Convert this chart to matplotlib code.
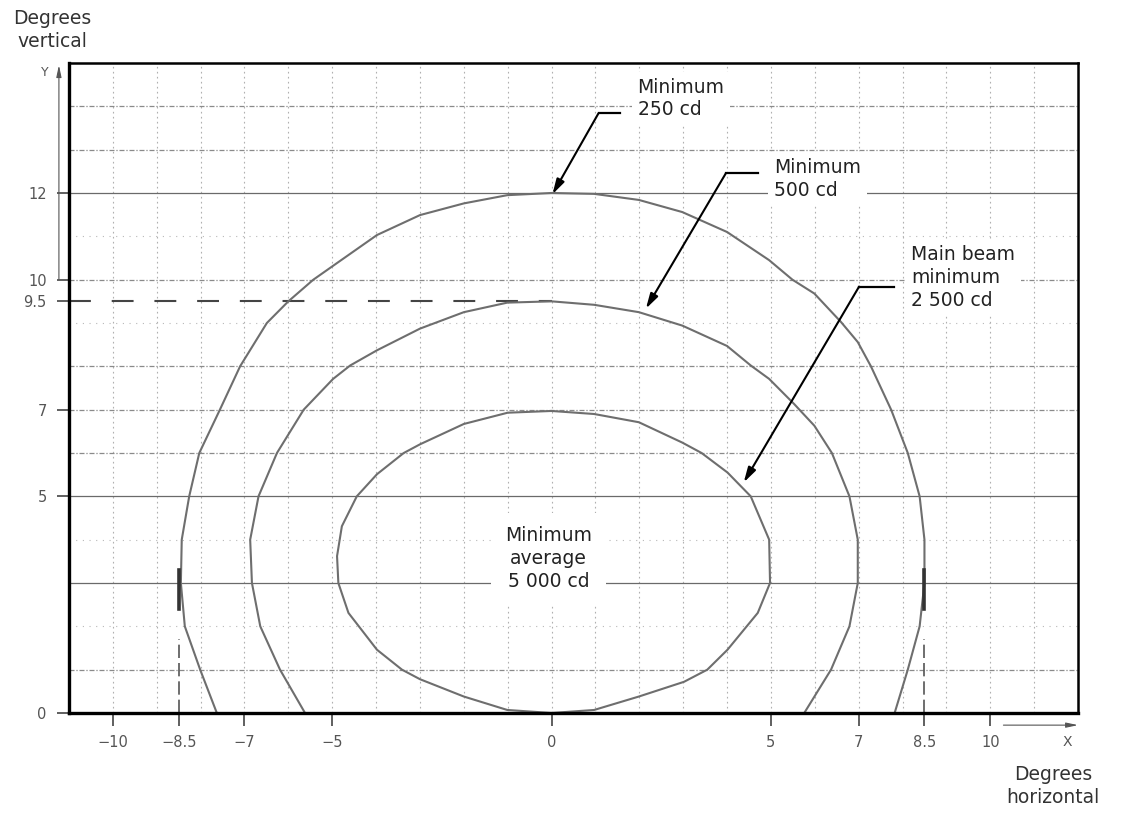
import matplotlib
matplotlib.use("Agg")
import matplotlib.pyplot as plt

# isocandela contours (degrees horizontal, degrees vertical)
x_250 = [-7.63, -8.01, -8.36, -8.45, -8.43, -8.26, -8.03, -7.56, -7.10, -6.49, -6.00,
         -5.43, -4.98, -3.98, -3.00, -2.00, -1.01, 0.00, 0.97, 1.99, 2.98, 4.00, 4.96,
         5.49, 5.99, 6.60, 6.98, 7.28, 7.74, 8.12, 8.39, 8.50, 8.50, 8.39, 8.12, 7.82]
y_250 = [0.00, 1.00, 2.00, 3.00, 4.00, 5.00, 6.00, 7.00, 8.00, 9.00, 9.50,
         10.00, 10.32, 11.03, 11.49, 11.76, 11.95, 12.00, 11.98, 11.84, 11.56, 11.10, 10.45,
         10.00, 9.68, 9.02, 8.56, 8.00, 7.00, 6.00, 5.00, 4.00, 3.00, 2.00, 1.00, 0.00]

x_500 = [-5.62, -6.19, -6.64, -6.83, -6.87, -6.68, -6.26, -5.65, -4.98, -4.59, -3.98,
         -3.00, -2.00, -1.01, 0.00, 0.97, 1.99, 2.98, 4.00, 4.54, 4.96, 5.53, 5.99,
         6.39, 6.79, 6.98, 6.98, 6.79, 6.37, 5.76]
y_500 = [0.00, 1.00, 2.00, 3.00, 4.00, 5.00, 6.00, 7.00, 7.71, 8.02, 8.37,
         8.87, 9.25, 9.47, 9.50, 9.42, 9.25, 8.94, 8.47, 8.02, 7.71, 7.13, 6.63,
         6.00, 5.00, 4.00, 3.00, 2.00, 1.00, 0.00]

x_2500 = [0.00, -1.01, -2.00, -3.00, -3.41, -3.98, -4.63, -4.86, -4.89, -4.78, -4.44,
          -3.98, -3.37, -3.00, -2.00, -1.00, 0.00, 0.97, 1.99, 2.98, 3.42, 4.01, 4.54,
          4.96, 4.98, 4.70, 4.01, 3.55, 3.02, 1.99, 0.97, 0.00]
y_2500 = [0.00, 0.07, 0.38, 0.78, 1.00, 1.46, 2.31, 3.00, 3.62, 4.31, 5.00,
          5.51, 6.00, 6.20, 6.67, 6.93, 6.97, 6.90, 6.71, 6.24, 6.00, 5.55, 5.00,
          4.00, 3.00, 2.31, 1.46, 1.00, 0.72, 0.38, 0.07, 0.00]

x_ticks = [-10, -8.5, -7, -5, 0, 5, 7, 8.5, 10]
x_tick_labels = ["\u221210", "\u22128.5", "\u22127", "\u22125", "0", "5", "7", "8.5", "10"]
y_ticks = [0, 5, 7, 9.5, 10, 12]
y_tick_labels = ["0", "5", "7", "9.5", "10", "12"]

# callouts: label text, text anchor, leader kink, leader end, arrow tip
labels = ["Minimum\n250 cd", "Minimum\n500 cd", "Main beam\nminimum\n2 500 cd"]
label_xy = [(1.96, 14.18), (5.07, 12.33), (8.20, 10.05)]
leader_kink = [(1.07, 13.84), (3.97, 12.45), (7.01, 9.84)]
leader_end = [(1.57, 13.84), (4.70, 12.45), (7.81, 9.84)]
arrow_tip = [(0.02, 11.97), (2.15, 9.33), (4.38, 5.32)]

centre_label = "Minimum\naverage\n5 000 cd"
centre_xy = (-0.07, 3.56)

dashed_level = 9.5
marks_x = [-8.5, 8.5]

fig = plt.figure(figsize=(11.24, 8.13), dpi=100)
ax = fig.add_axes([69 / 1124, 100 / 813, 1009 / 1124, 650 / 813])
ax.set_xlim(-11, 12)
ax.set_ylim(0, 15)

# graph paper
for gx in range(-10, 12):
    ax.axvline(gx, color="#b0b0b0", lw=0.8, ls=(0, (1.5, 3)), zorder=0)
for gy in [2, 4, 9, 11]:
    ax.axhline(gy, color="#b8b8b8", lw=0.8, ls=(0, (1, 5)), zorder=0)
for gy in [1, 6, 7, 8, 10, 13, 14]:
    ax.axhline(gy, color="#8a8a8a", lw=0.9, ls=(0, (4, 1.5, 1, 1.5)), zorder=0)
for gy in [3, 5, 12]:
    ax.axhline(gy, color="#6a6a6a", lw=0.9, zorder=0)

ax.plot([-11, 0], [dashed_level, dashed_level], color="#444444", lw=1.5,
        ls=(0, (10.5, 10)), zorder=1)
for mx in marks_x:
    ax.plot([mx, mx], [0, 1.7], color="#555555", lw=1.2, ls=(0, (8, 3)), zorder=1)
    ax.plot([mx, mx], [2.4, 3.3], color="#333333", lw=2.6, zorder=3)

curve_style = dict(color="#6e6e6e", lw=1.5, zorder=2)
ax.plot(x_250, y_250, **curve_style)
ax.plot(x_500, y_500, **curve_style)
ax.plot(x_2500, y_2500, **curve_style)

text_style = dict(fontsize=13.5, color="#222222", linespacing=1.25, zorder=4,
                  bbox=dict(facecolor="white", edgecolor="none", pad=4))
for lab, (tx, ty), k, e, tip in zip(labels, label_xy, leader_kink, leader_end, arrow_tip):
    ax.text(tx, ty, lab, ha="left", va="center", **text_style)
    ax.plot([k[0], e[0]], [k[1], e[1]], color="black", lw=1.6, zorder=5)
    ax.annotate("", xy=tip, xytext=k, zorder=5,
                arrowprops=dict(arrowstyle="-|>,head_length=0.9,head_width=0.25",
                                color="black", lw=1.5, shrinkA=0, shrinkB=0))

ax.text(centre_xy[0], centre_xy[1], centre_label, ha="center", va="center",
        fontsize=13.5, color="#222222", linespacing=1.25, zorder=4,
        bbox=dict(facecolor="white", edgecolor="none", pad=10))

# axes
for side in ["left", "bottom"]:
    ax.spines[side].set_linewidth(2.4)
for side in ["top", "right"]:
    ax.spines[side].set_linewidth(1.8)
ax.set_xticks(x_ticks)
ax.set_xticklabels(x_tick_labels)
ax.set_yticks(y_ticks)
ax.set_yticklabels(y_tick_labels)
ax.tick_params(direction="out", length=9, width=1.2, color="#444444",
               labelsize=10.5, labelcolor="#555555", pad=7)

# axis arrows and names
ax.annotate("", xy=(-11.23, 14.95), xytext=(-11.23, 10.0), annotation_clip=False,
            arrowprops=dict(arrowstyle="-|>,head_length=0.7,head_width=0.15",
                            color="#555555", lw=0.8, shrinkA=0, shrinkB=0))
ax.annotate("", xy=(12.0, -0.28), xytext=(10.3, -0.28), annotation_clip=False,
            arrowprops=dict(arrowstyle="-|>,head_length=0.7,head_width=0.15",
                            color="#555555", lw=0.8, shrinkA=0, shrinkB=0))
ax.text(-11.55, 14.78, "Y", fontsize=9, color="#555555", ha="center", va="center",
        clip_on=False)
ax.text(11.75, -0.68, "X", fontsize=10, color="#555555", ha="center", va="center",
        clip_on=False)

fig.text(52 / 1124, 1 - 30 / 813, "Degrees\nvertical", ha="center", va="center",
         fontsize=13.5, color="#333333", linespacing=1.3)
fig.text(1053 / 1124, 1 - 786 / 813, "Degrees\nhorizontal", ha="center", va="center",
         fontsize=13.5, color="#333333", linespacing=1.3)

fig.savefig("out.png", dpi=100, facecolor="white")
